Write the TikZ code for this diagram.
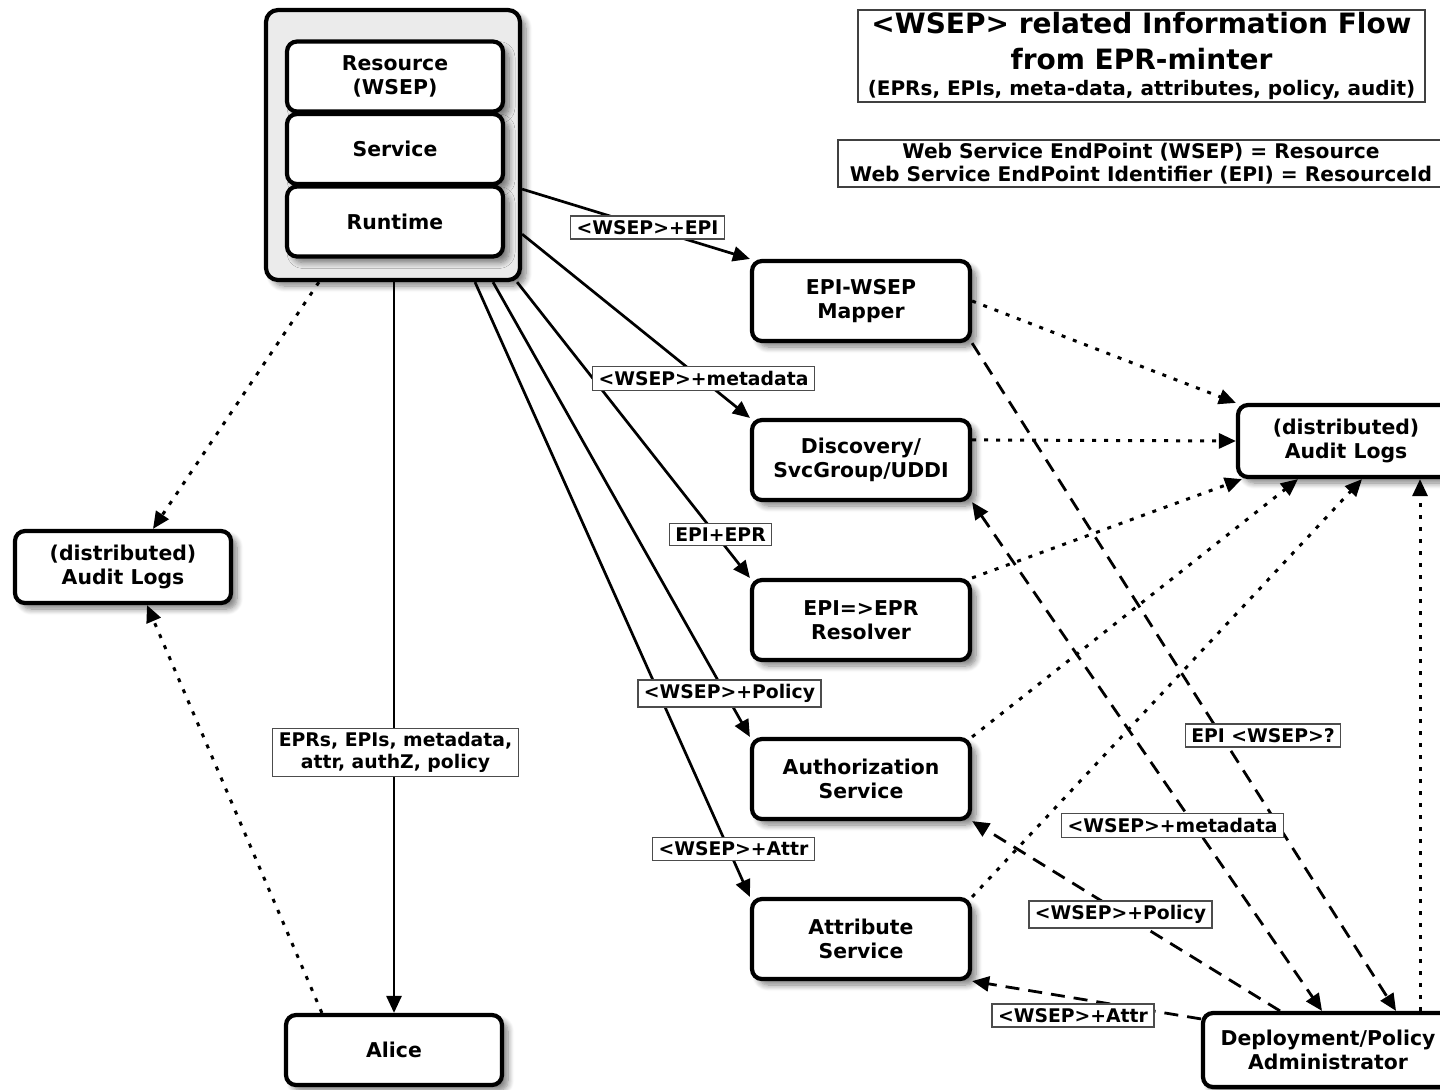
\documentclass[tikz,border=0pt]{standalone}
\usepackage{fontspec}
\setmainfont{DejaVu Sans}
\usetikzlibrary{arrows.meta,calc,shadows.blur}

\begin{document}
\begin{tikzpicture}[x=0.5pt,y=-0.5pt,
  every node/.style={font=\bfseries},
  soft shadow/.style={blur shadow={shadow xshift=3pt, shadow yshift=-3pt, shadow opacity=50, shadow blur steps=8, shadow blur radius=3pt}},
  box/.style={draw, line width=2.1pt, rounded corners=5pt, fill=white,
    minimum width=108pt, minimum height=40pt, align=center, inner sep=0pt,
    font=\fontsize{10.2}{12.3}\selectfont\bfseries, soft shadow},
  tag/.style={draw=black!70, line width=0.6pt, fill=white, inner xsep=3pt, inner ysep=2.2pt, align=center,
    font=\fontsize{9.4}{10.8}\selectfont\bfseries},
  flow/.style={line width=1.35pt, -{Triangle[length=8.5pt,width=7.5pt]}},
  both/.style={{Triangle[length=8.5pt,width=7.5pt]}-{Triangle[length=8.5pt,width=7.5pt]}},
  audit/.style={flow, line width=1.5pt, dash pattern=on 2pt off 4pt},
  admin/.style={flow, line width=1.4pt, dash pattern=on 7pt off 4.5pt},
]
\useasboundingbox (0,0) rectangle (1440,1089);

% resource stack
\node[draw, line width=2.1pt, rounded corners=6pt, fill=gray!16, minimum width=127pt, minimum height=135pt,
  soft shadow] (cont) at (393,145) {};
\node[box, minimum height=35pt] (res) at (395,76.5) {Resource\\(WSEP)};
\node[box, minimum height=35pt] (svc) at (395,149) {Service};
\node[box, minimum height=35pt] (run) at (395,221.5) {Runtime};

% services
\node[box, minimum width=109pt] (mapper) at (861,301) {EPI-WSEP\\Mapper};
\node[box, minimum width=109pt] (disc) at (861,460) {Discovery/\\SvcGroup/UDDI};
\node[box, minimum width=109pt] (resol) at (861,620) {EPI=>EPR\\Resolver};
\node[box, minimum width=109pt] (auth) at (861,779) {Authorization\\Service};
\node[box, minimum width=109pt] (attr) at (861,939) {Attribute\\Service};

% audit logs, client, administrator
\node[box, minimum height=36pt] (auditR) at (1346,441) {(distributed)\\Audit Logs};
\node[box, minimum height=36pt] (auditL) at (123,567) {(distributed)\\Audit Logs};
\node[box, minimum height=35pt] (alice) at (394,1050) {Alice};
\node[box, minimum width=125pt, minimum height=37pt] (deploy) at (1328,1050) {Deployment/Policy\\Administrator};

% headings
\node[draw=black!75, line width=0.8pt, minimum width=283.5pt, minimum height=46pt, inner sep=0pt, align=center] (title) at (1141.5,56)
  {\fontsize{14}{11}\selectfont <WSEP> related Information Flow\\[6pt]
   \fontsize{14}{11}\selectfont from EPR-minter\\[1pt]
   \fontsize{10}{11}\selectfont (EPRs, EPIs, meta-data, attributes, policy, audit)};
\node[draw=black!75, line width=0.8pt, minimum width=303pt, minimum height=23.5pt, inner sep=0pt, align=center,
  font=\fontsize{10.1}{11.5}\selectfont\bfseries] (defs) at (1141,163.5)
  {Web Service EndPoint (WSEP) = Resource\\Web Service EndPoint Identifier (EPI) = ResourceId};

% flows from the resource
\draw[flow] ($(cont.south east)+(0,-93)$) -- (mapper.north west);
\draw[flow] ($(cont.south east)+(0,-48)$) -- (disc.north west);
\draw[flow] ($(cont.south east)+(-5,0)$) -- (resol.north west);
\draw[flow] ($(cont.south)+(100,0)$) -- (auth.north west);
\draw[flow] ($(cont.south)+(82,0)$) -- (attr.north west);
\draw[flow] ($(cont.south)+(1,0)$) -- (alice.north);

% audit trails
\draw[audit] ($(cont.south west)+(55,0)$) -- ($(auditL.north)+(30,0)$);
\draw[audit] ($(alice.north west)+(38,0)$) -- ($(auditL.south)+(24,0)$);
\draw[audit] (mapper.east) -- (auditR.north west);
\draw[audit] ($(disc.north east)+(0,22)$) -- (auditR.west);
\draw[audit] (resol.north east) -- ($(auditR.south west)+(6,0)$);
\draw[audit] (auth.north east) -- ($(auditR.south)+(-48,0)$);
\draw[audit] (attr.north east) -- ($(auditR.south)+(16,0)$);
\draw[audit] ($(deploy.north)+(92,0)$) -- ($(auditR.south)+(74,0)$);

% administration
\draw[admin] (mapper.south east) -- ($(deploy.north)+(68,0)$);
\draw[admin, both] (disc.south east) -- ($(deploy.north)+(-6,0)$);
\draw[admin] ($(deploy.north)+(-48,0)$) -- (auth.south east);
\draw[admin] ($(deploy.north west)+(0,8)$) -- (attr.south east);

% connector labels
\node[tag] (l1) at (647.5,227.5) {<WSEP>+EPI};
\node[tag] (l2) at (703.5,378.5) {<WSEP>+metadata};
\node[tag] (l3) at (720.5,534.5) {EPI+EPR};
\node[tag] (l4) at (729.5,693.5) {<WSEP>+Policy};
\node[tag] (l5) at (733.5,849) {<WSEP>+Attr};
\node[tag] (l6) at (395.5,752.5) {EPRs, EPIs, metadata,\\attr, authZ, policy};
\node[tag] (l7) at (1263,735.5) {EPI <WSEP>?};
\node[tag] (l8) at (1172.5,825.5) {<WSEP>+metadata};
\node[tag] (l9) at (1120.5,914.5) {<WSEP>+Policy};
\node[tag] (l10) at (1073,1015.5) {<WSEP>+Attr};
\end{tikzpicture}
\end{document}
